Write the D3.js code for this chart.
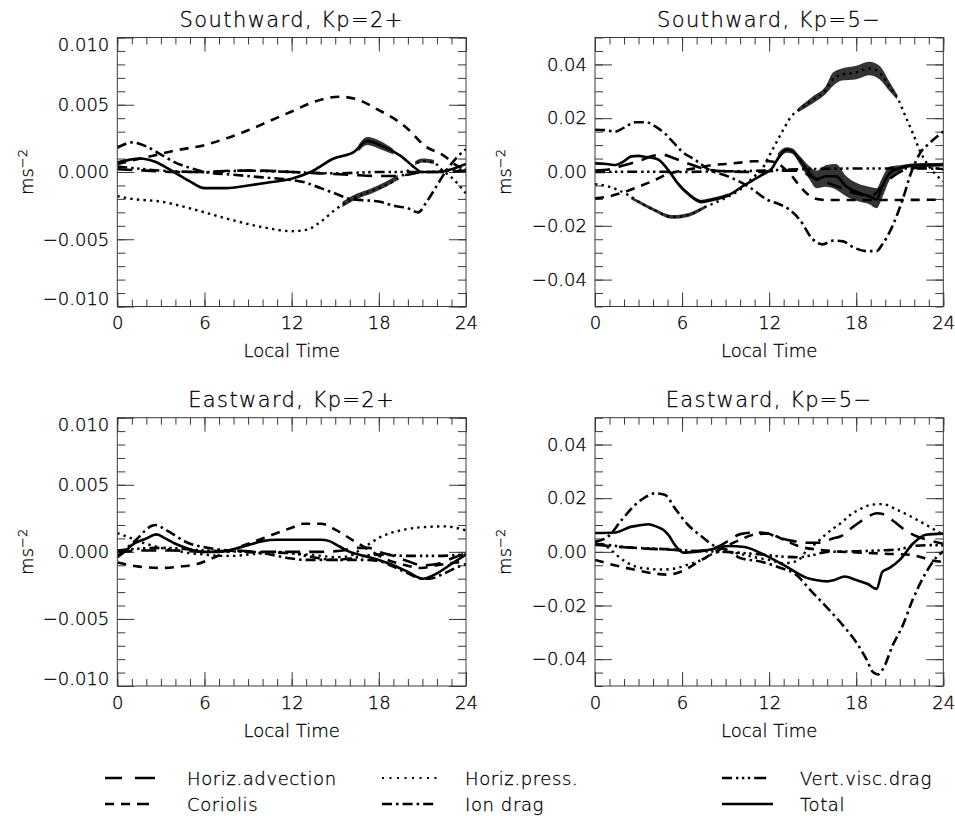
<!DOCTYPE html>
<html><head><meta charset="utf-8">
<script src="https://cdn.jsdelivr.net/npm/d3@7"></script>
<style>
body{margin:0;background:#fff;}
text{font-family:"DejaVu Sans",sans-serif;font-weight:200;fill:#000;stroke:#000;stroke-width:0.3px;}
</style></head>
<body><svg id="c" width="955" height="816"></svg>
<script>
// ---------- DATA (hour, value in m s^-2) ----------
const seriesNames = ["Horiz.advection","Coriolis","Horiz.press.","Ion drag","Vert.visc.drag","Total"];
const panelTitles = ["Southward, Kp=2+","Southward, Kp=5\u2212","Eastward, Kp=2+","Eastward, Kp=5\u2212"];
const xTicks = [0,6,12,18,24];
const yTicksSmall = [-0.010,-0.005,0,0.005,0.010];
const yTicksLarge = [-0.04,-0.02,0,0.02,0.04];

// Southward, Kp=2+
const s2Adv = [[0,0.0002],[2,0.0001],[4,0],[6,0],[8,0.0001],[10,0.0001],[12,0],[14,-0.0001],[16,-0.0002],[18,-0.0003],[19,-0.0003],[20,-0.0002],[21,0],[22,0],[24,0.0001]];
const s2Cor = [[0,0.0006],[2,0.0011],[4,0.0016],[6,0.002],[7.5,0.0025],[9,0.0031],[10.5,0.0038],[12,0.0045],[13.5,0.0052],[15.25,0.0056],[16.5,0.0054],[18,0.0046],[19,0.004],[20,0.0032],[21.1,0.002],[22.5,0.0012],[23.4,0.00045],[24,0.0002]];
const s2Prs = [[0,-0.0018],[1,-0.002],[3,-0.0022],[5,-0.0027],[6,-0.003],[8,-0.0036],[10,-0.0041],[12,-0.0044],[13,-0.0043],[14,-0.0037],[15,-0.0028],[16,-0.0021],[17,-0.0016],[18,-0.0012],[19,-0.0007],[19.7,-0.0002],[20.3,0.0004],[21,0.0008],[21.8,0.0007],[22.3,0.0002],[23,-0.0004],[24,-0.0016]];
const s2Ion = [[0,0.0018],[1,0.0022],[2,0.0019],[3,0.0013],[4,0.0007],[5,0.0003],[6,0],[8,-0.0002],[10,-0.0004],[12,-0.0006],[13,-0.0008],[14,-0.0012],[15,-0.0016],[16,-0.002],[17,-0.0021],[18,-0.0022],[19,-0.0025],[20,-0.0027],[20.7,-0.003],[21.3,-0.0022],[22,-0.001],[22.7,0.0002],[23.3,0.001],[24,0.0017]];
const s2Vis = [[0,0.0004],[1,0.0003],[3,0.0001],[6,0],[9,0.0001],[12,0],[15,-0.0001],[18,0],[21,0],[24,0.0002]];
const s2Tot = [[0,0.0007],[0.8,0.0009],[1.6,0.001],[2.5,0.0008],[3.9,0],[5,-0.0007],[6,-0.0012],[7.5,-0.0012],[9,-0.001],[10.3,-0.0008],[12,-0.0005],[13.3,0],[14.9,0.001],[16.3,0.0015],[17.2,0.0023],[18.1,0.002],[19.5,0.0012],[20.5,0.0003],[20.9,0],[22,0],[23,0.0002],[24,0.0006]];
const s2Band = [[16.6,0.0015,0.002],[17.2,0.002,0.0026],[18.1,0.0017,0.0023],[19,0.0013,0.0017],null,[15.5,-0.0026,-0.0022],[16.5,-0.002,-0.0016],[17.5,-0.0016,-0.0012],[18.5,-0.0011,-0.0007],[19.3,-0.0006,-0.0002],null,[20.5,0.0005,0.0008],[21,0.0007,0.001],[21.8,0.0006,0.0009]];

// Southward, Kp=5-
const s5Adv = [[0,0.0005],[1,0.001],[2,0.0025],[3,0.004],[4,0.006],[4.6,0.0065],[5.5,0.005],[6.5,0.003],[7.5,0.0012],[9,0.0003],[11,0],[13,0.0005],[14,0.0005],[15,-0.002],[16,-0.004],[17,-0.006],[18,-0.008],[19,-0.009],[20,-0.004],[21,0],[22,0.0015],[23,0.0015],[24,0.001]];
const s5Cor = [[0,-0.0098],[1,-0.009],[2,-0.0075],[3,-0.0055],[4,-0.0033],[5,-0.0008],[6,0.0005],[7,0.0015],[8,0.0025],[9,0.003],[10,0.0035],[11,0.004],[12,0.004],[12.5,0.0035],[13,0.0015],[13.5,-0.001],[14,-0.0045],[14.5,-0.0075],[15,-0.0095],[15.5,-0.0102],[16,-0.0104],[20,-0.0104],[24,-0.0103]];
const s5Prs = [[0,-0.0045],[1,-0.0055],[1.5,-0.0065],[2.3,-0.0086],[3.2,-0.0117],[4.1,-0.0142],[5.3,-0.0167],[6.4,-0.016],[7.6,-0.013],[8.7,-0.0104],[10,-0.0065],[11,-0.0015],[11.5,0.001],[12,0.006],[12.5,0.011],[13,0.016],[13.5,0.0205],[14,0.023],[15,0.0268],[15.9,0.0305],[16.4,0.0345],[17,0.0362],[18,0.037],[18.9,0.0385],[19.6,0.037],[20.3,0.0317],[20.8,0.028],[21.4,0.0206],[21.9,0.0144],[22.4,0.0077],[23,0.0022],[24,-0.0035]];
const s5Ion = [[0,0.0157],[0.8,0.0155],[1.4,0.015],[2,0.0165],[2.8,0.0185],[3.5,0.0185],[4.2,0.0168],[4.8,0.0144],[5.4,0.011],[6,0.0076],[6.9,0.0045],[7.8,0.001],[9.2,-0.0017],[10.6,-0.0055],[11.9,-0.0104],[12.7,-0.012],[13.4,-0.014],[14.1,-0.0177],[15,-0.025],[15.7,-0.0269],[16.4,-0.0255],[17.1,-0.0258],[17.8,-0.028],[18.7,-0.0294],[19.4,-0.0294],[19.8,-0.0269],[20.5,-0.0201],[21.2,-0.0102],[21.8,0],[22.4,0.007],[23.05,0.0107],[24,0.015]];
const s5Vis = [[0,0],[2,0.0001],[4,0.0001],[6,0],[8,0.0002],[10,0.0003],[12,0.0006],[14,0.001],[16,0.0012],[18,0.0013],[20,0.0013],[22,0.0013],[24,0.0012]];
const s5Tot = [[0,0.0032],[0.8,0.003],[1.4,0.0026],[2,0.004],[2.5,0.0058],[3,0.006],[3.4,0.0057],[4,0.0052],[4.4,0.0045],[5.05,0.0007],[5.7,-0.0042],[6.4,-0.008],[7.35,-0.011],[8,-0.0104],[9.2,-0.0086],[10.3,-0.0049],[11.5,-0.0011],[12.2,0.0014],[12.7,0.0058],[13.2,0.0083],[13.6,0.0077],[14.1,0.0046],[14.8,-0.0004],[15.25,-0.0028],[15.9,-0.0016],[16.6,-0.0016],[17.3,-0.0053],[18.2,-0.0078],[18.9,-0.009],[19.4,-0.0102],[19.8,-0.0053],[20.3,-0.0004],[21,0.0015],[21.9,0.0025],[24,0.0027]];
const s5Band = [[12.6,0.004,0.007],[13.2,0.0072,0.0092],[13.6,0.0068,0.0088],[14.1,0.003,0.006],[14.8,-0.003,0.002],[15.25,-0.006,0.0005],[15.9,-0.0055,0.0025],[16.6,-0.0065,0.003],[17.3,-0.009,-0.0015],[18.2,-0.011,-0.0045],[18.9,-0.012,-0.0055],[19.4,-0.0135,-0.006],[19.8,-0.0095,-0.002],[20.3,-0.003,0.002],[21,0.0005,0.0025],[21.9,0.0018,0.0032],[23,0.0019,0.0033],[24,0.002,0.0034],null,
  [5.7,-0.0049,-0.0035],[6.4,-0.0087,-0.0073],[7.35,-0.0117,-0.0103],[8,-0.0111,-0.0097],[9.2,-0.0093,-0.0079],null,
  [2.5,-0.0102,-0.0092],[3.2,-0.0123,-0.0111],[4.1,-0.0148,-0.0136],[5.3,-0.0174,-0.016],[6.4,-0.0167,-0.0153],[7.6,-0.0136,-0.0124],null,
  [14,0.0222,0.0238],[15,0.0255,0.0281],[15.9,0.029,0.032],[16.4,0.032,0.037],[17,0.034,0.0385],[18,0.0345,0.0395],[18.9,0.036,0.041],[19.6,0.0345,0.0395],[20.3,0.03,0.0335],[20.8,0.027,0.029]];

// Eastward, Kp=2+
const e2Adv = [[0,0],[2,0.0001],[4,0.0001],[6,0],[8,0.0001],[10,0],[12,0],[14,0],[15.5,0.0001],[16.5,0.0003],[17.3,0.0003],[18,0],[19,-0.0003],[20,-0.0007],[21,-0.001],[22,-0.0009],[23,-0.0005],[24,-0.0001]];
const e2Cor = [[0,-0.0008],[1.5,-0.0011],[3,-0.0012],[4.3,-0.0011],[5.5,-0.0009],[6.7,-0.0004],[8,0.0002],[10,0.001],[12,0.0018],[12.8,0.0021],[14,0.0021],[15.1,0.0016],[16.3,0.0008],[17.4,0.0001],[18.6,-0.0006],[19.5,-0.0009],[20.9,-0.0012],[22,-0.001],[24,-0.0007]];
const e2Prs = [[0,0.0014],[1,0.001],[2,0.0006],[3,0.0003],[4,0.0001],[5,-0.0001],[6,-0.0002],[7,-0.0003],[8,-0.0003],[9,-0.0002],[10,-0.0001],[11,0],[12,-0.0001],[13,-0.0002],[14,-0.0003],[15,-0.0004],[16,-0.0003],[16.5,0],[17.2,0.0005],[18.3,0.0012],[19.5,0.0016],[20.6,0.0018],[22.5,0.0019],[24,0.0016]];
const e2Ion = [[0,-0.0003],[1.1,0.0007],[2.6,0.002],[3.4,0.0016],[4.8,0.0007],[6.2,0.0003],[7.6,0.0001],[9,0],[10,-0.0001],[11,-0.0003],[12,-0.0005],[13,-0.0006],[16,-0.0006],[17,-0.0006],[18,-0.0007],[19,-0.0011],[20,-0.0016],[21,-0.002],[21.5,-0.002],[22.5,-0.0016],[23.3,-0.0012],[24,-0.0009]];
const e2Vis = [[0,0.0001],[3,0.0003],[6,0.0001],[9,0],[12,-0.0001],[13,-0.0003],[14,-0.0005],[15,-0.0006],[16,-0.0005],[17,-0.0003],[18,-0.0002],[20,-0.0003],[22,-0.0003],[24,-0.0002]];
const e2Tot = [[0,-0.0004],[0.5,0],[1,0.0005],[2,0.001],[2.7,0.0013],[3.3,0.001],[4,0.0006],[5,0.0002],[6,0],[7,0],[8,0.0002],[9,0.0005],[10,0.0008],[11,0.0009],[12,0.0009],[14,0.0009],[14.6,0.0008],[15.3,0.0004],[16,0],[17,-0.0003],[18,-0.0006],[19,-0.001],[20,-0.0015],[21,-0.002],[22,-0.0016],[23,-0.0009],[24,-0.0002]];

// Eastward, Kp=5-
const e5Adv = [[0,0.0026],[1.4,0.002],[2,0.0017],[3.5,0.0012],[5.5,0.0007],[6.5,0.0002],[7.5,0.0006],[8.5,0.002],[9.3,0.0045],[10,0.0066],[11,0.0072],[11.8,0.007],[12.5,0.0056],[13.7,0.004],[14.5,0.0034],[15.5,0.0034],[16.4,0.005],[16.9,0.0057],[17.8,0.0094],[18.7,0.0127],[19.4,0.0144],[20,0.0138],[20.6,0.0113],[21.5,0.0076],[22.2,0.0057],[22.9,0.0045],[24,0.003]];
const e5Cor = [[0,-0.003],[1,-0.0045],[2,-0.0058],[3,-0.007],[4,-0.008],[5,-0.0085],[6,-0.0072],[6.9,-0.0045],[7.5,-0.0025],[8.3,0],[9,0.002],[10,0.0045],[11,0.0065],[12,0.0068],[12.5,0.0058],[13,0.0045],[14.1,0.002],[15.6,0.0007],[16.5,0.0002],[18,-0.0002],[20,-0.0007],[21.7,-0.0011],[22.5,-0.002],[23.2,-0.0032],[23.8,-0.0036],[24,-0.003]];
const e5Prs = [[0,0.004],[1,0.0012],[1.6,-0.0017],[2.8,-0.0055],[3.7,-0.0063],[4.6,-0.0066],[5.5,-0.0062],[6.4,-0.0048],[7.6,-0.0024],[8.3,-0.0003],[9.2,0],[10,-0.0008],[11,-0.002],[12,-0.003],[13,-0.0042],[13.9,-0.0035],[14.6,0.0005],[15.3,0.0035],[16,0.007],[17,0.011],[17.6,0.0138],[18.3,0.016],[19,0.0175],[19.8,0.0178],[20.8,0.0157],[22,0.0125],[22.9,0.0098],[23.8,0.007],[24,0.0065]];
const e5Ion = [[0,0.0038],[0.9,0.0057],[1.84,0.0119],[2.76,0.0175],[3.5,0.0205],[4.1,0.0218],[4.8,0.0213],[5.5,0.0163],[6.4,0.0101],[7.35,0.0057],[8.3,0.002],[9.2,0.0005],[10,-0.0023],[11.4,-0.0036],[12.8,-0.006],[13.7,-0.0079],[15,-0.0152],[16.2,-0.022],[17.1,-0.0275],[18,-0.0337],[18.7,-0.04],[19.15,-0.0448],[19.5,-0.0457],[19.85,-0.0436],[20.5,-0.035],[21.2,-0.0275],[21.9,-0.0177],[22.8,-0.0078],[23.5,-0.0022],[24,0.0002]];
const e5Vis = [[0,0.003],[1,0.0025],[2,0.0018],[3.5,0.0013],[5,0.001],[7,0.0003],[9,0],[11,-0.0008],[12,-0.0013],[13,-0.0018],[14,-0.002],[15,-0.0012],[16,0],[17,0.0001],[18,0.0002],[19,0.0004],[20,0.0006],[21,0.001],[22,0.0022],[23,0.0025],[24,0.0024]];
const e5Tot = [[0,0.007],[1.4,0.0072],[2.5,0.0094],[3,0.0098],[3.7,0.0103],[4.2,0.0095],[4.7,0.0082],[5.1,0.006],[5.5,0.0026],[6.1,-0.0003],[6.9,0],[7.8,0.0007],[9.2,0.0022],[10.3,0.0018],[11.4,-0.0004],[13,-0.0049],[14.6,-0.0097],[15.2,-0.0105],[16,-0.011],[16.5,-0.0105],[17.2,-0.0092],[18,-0.0105],[18.8,-0.012],[19.4,-0.0138],[19.8,-0.0075],[20.3,-0.006],[21,-0.003],[21.9,0.003],[22.8,0.0064],[24,0.0068]];

// ---------- LAYOUT ----------
const styles = [
  {dash:"15,9", legendDash:"17,13,20", width:2.6},
  {dash:"9,7", legendDash:"9,7,9,7,12", width:2.6},
  {dash:"2.4,4.2", legendDash:"2,5.5", width:2.4},
  {dash:"10,4,2.6,4", legendDash:"10,4,2.6,4,10,4,2.6,4,10", width:2.6},
  {dash:"10,4,2.4,3.5,2.4,3.5,2.4,4", legendDash:"10,4,2.4,3.5,2.4,3.5,2.4,4,12", width:2.6},
  {dash:null, legendDash:null, width:2.6}
];
const panels = [
  {title:panelTitles[0], x0:117.3, x1:466, y0:37.5, y1:306.5, ymax:0.010, ticks:yTicksSmall, minor:0.001, fmt:".3f", clampExt:true, data:[s2Adv,s2Cor,s2Prs,s2Ion,s2Vis,s2Tot], band:s2Band},
  {title:panelTitles[1], x0:595, x1:943.3, y0:37.5, y1:306.5, ymax:0.05, ticks:yTicksLarge, minor:0.005, fmt:".2f", clampExt:false, data:[s5Adv,s5Cor,s5Prs,s5Ion,s5Vis,s5Tot], band:s5Band},
  {title:panelTitles[2], x0:117.3, x1:466, y0:417.7, y1:686, ymax:0.010, ticks:yTicksSmall, minor:0.001, fmt:".3f", clampExt:true, data:[e2Adv,e2Cor,e2Prs,e2Ion,e2Vis,e2Tot], band:null},
  {title:panelTitles[3], x0:595, x1:943.3, y0:417.7, y1:686, ymax:0.05, ticks:yTicksLarge, minor:0.005, fmt:".2f", clampExt:false, data:[e5Adv,e5Cor,e5Prs,e5Ion,e5Vis,e5Tot], band:null}
];

const svg = d3.select("#c");
const ink = "#000", frameCol = "#3a3a3a";

panels.forEach((p,pi)=>{
  const x = d3.scaleLinear().domain([0,24]).range([p.x0,p.x1]);
  const y = d3.scaleLinear().domain([-p.ymax,p.ymax]).range([p.y1,p.y0]);
  const g = svg.append("g");
  const cid = "clip"+pi;
  g.append("clipPath").attr("id",cid).append("rect")
    .attr("x",p.x0).attr("y",p.y0).attr("width",p.x1-p.x0).attr("height",p.y1-p.y0);

  const minorY = d3.range(-p.ymax, p.ymax+p.minor/2, p.minor).map(v=>+v.toFixed(5));
  const minorX = d3.range(0,25,1);
  const fmt = d3.format(p.fmt);
  const lab = v => (v<0?"\u2212":"") + fmt(Math.abs(v));

  function styleAxis(sel){ sel.select(".domain").remove(); sel.selectAll("line").attr("stroke",frameCol); }
  // minor ticks
  g.append("g").attr("transform",`translate(0,${p.y1})`).call(d3.axisBottom(x).tickValues(minorX).tickSize(-7).tickFormat("")).call(styleAxis);
  g.append("g").attr("transform",`translate(0,${p.y0})`).call(d3.axisTop(x).tickValues(minorX).tickSize(-7).tickFormat("")).call(styleAxis);
  g.append("g").attr("transform",`translate(${p.x0},0)`).call(d3.axisLeft(y).tickValues(minorY).tickSize(-8).tickFormat("")).call(styleAxis);
  g.append("g").attr("transform",`translate(${p.x1},0)`).call(d3.axisRight(y).tickValues(minorY).tickSize(-8).tickFormat("")).call(styleAxis);
  // major ticks
  const bx = g.append("g").attr("transform",`translate(0,${p.y1})`).call(d3.axisBottom(x).tickValues(xTicks).tickSize(-14).tickPadding(10).tickFormat(d3.format("d"))).call(styleAxis);
  g.append("g").attr("transform",`translate(0,${p.y0})`).call(d3.axisTop(x).tickValues(xTicks).tickSize(-14).tickFormat("")).call(styleAxis);
  const ly = g.append("g").attr("transform",`translate(${p.x0},0)`).call(d3.axisLeft(y).tickValues(p.ticks).tickSize(-17).tickPadding(8).tickFormat(lab)).call(styleAxis);
  g.append("g").attr("transform",`translate(${p.x1},0)`).call(d3.axisRight(y).tickValues(p.ticks).tickSize(-17).tickFormat("")).call(styleAxis);
  [bx,ly].forEach(a=>a.attr("font-size",null).attr("font-family",null).selectAll("text").style("font-size","18px").attr("fill",ink));
  bx.selectAll("text").attr("dy","0.71em");
  if(p.clampExt){
    ly.selectAll("text").attr("transform",d=> d===p.ymax? "translate(0,7.5)" : d===-p.ymax ? "translate(0,-7.5)" : null);
  }

  // band (noisy stretches)
  if(p.band){
    const area = d3.area().defined(d=>d!==null).x(d=>x(d[0])).y0(d=>y(d[1])).y1(d=>y(d[2])).curve(d3.curveMonotoneX);
    g.append("path").attr("clip-path",`url(#${cid})`).attr("d",area(p.band)).attr("fill","#111").attr("opacity",0.85);
  }
  // series
  const line = d3.line().x(d=>x(d[0])).y(d=>y(d[1])).curve(d3.curveMonotoneX);
  p.data.forEach((ser,si)=>{
    g.append("path").attr("clip-path",`url(#${cid})`).attr("d",line(ser))
      .attr("fill","none").attr("stroke",ink).attr("stroke-width",styles[si].width)
      .attr("stroke-dasharray",styles[si].dash).attr("stroke-linejoin","round");
  });
  // frame
  g.append("rect").attr("x",p.x0).attr("y",p.y0).attr("width",p.x1-p.x0).attr("height",p.y1-p.y0)
    .attr("fill","none").attr("stroke",frameCol).attr("stroke-width",1);
  // texts
  g.append("text").attr("x",(p.x0+p.x1)/2).attr("y",p.y0-10.5).attr("text-anchor","middle")
    .style("font-size","21px").style("letter-spacing","1.4px").text(p.title);
  g.append("text").attr("x",(p.x0+p.x1)/2).attr("y",p.y1+50.5).attr("text-anchor","middle").style("font-size","18px").text("Local Time");
  const yl = g.append("text").attr("transform",`translate(${p.x0-84},${(p.y0+p.y1)/2}) rotate(-90)`).attr("text-anchor","middle").style("font-size","18px");
  yl.append("tspan").text("ms");
  yl.append("tspan").attr("dy","-0.45em").style("font-size","13px").text("\u22122");
});

// legend
const legCols = [105, 382, 722];
const legTextOff = [82, 83, 78];
const legLen = [51, 58, 51];
const legRows = [778, 804];
const legendOrder = [[0,0],[2,1],[4,2],[1,0],[3,1],[5,2]]; // [series, column]
legendOrder.forEach((o,i)=>{
  const si=o[0], col=o[1], row = i<3?0:1;
  const lx = legCols[col], ly = legRows[row];
  svg.append("line").attr("x1",lx).attr("x2",lx+legLen[col]).attr("y1",ly).attr("y2",ly)
    .attr("stroke",ink).attr("stroke-width",si===2?2:styles[si].width).attr("stroke-dasharray",styles[si].legendDash);
  svg.append("text").attr("x",lx+legTextOff[col]).attr("y",ly+6.5).style("font-size","18px").style("letter-spacing","0.6px").text(seriesNames[si]);
});
</script></body></html>
